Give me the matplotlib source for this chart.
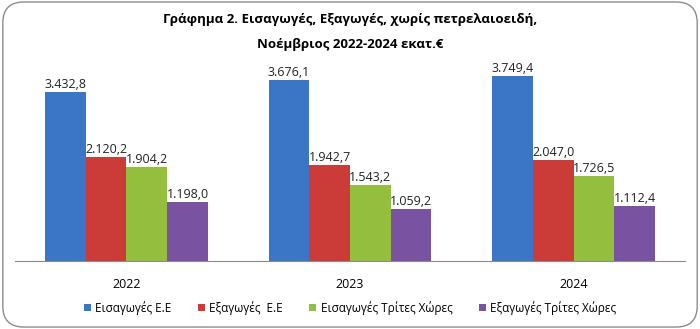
import matplotlib
matplotlib.use("Agg")
import matplotlib.pyplot as plt
from matplotlib.patches import FancyBboxPatch
import numpy as np

plt.rcParams['font.family'] = ['Open Sans', 'Noto Sans', 'DejaVu Sans']

years = ['2022', '2023', '2024']
series = ['Εισαγωγές Ε.Ε', 'Εξαγωγές  Ε.Ε', 'Εισαγωγές Τρίτες Χώρες', 'Εξαγωγές Τρίτες Χώρες']
imp_eu = [3432.8, 3676.1, 3749.4]
exp_eu = [2120.2, 1942.7, 2047.0]
imp_third = [1904.2, 1543.2, 1726.5]
exp_third = [1198.0, 1059.2, 1112.4]
colors = ['#3B75C6', '#CB3B37', '#94BE3E', '#7952A1']

def fmt(v):
    s = f"{v:,.1f}"
    return s.replace(',', 'X').replace('.', ',').replace('X', '.')

fig = plt.figure(figsize=(7, 3.29), dpi=100)
fig.patches.append(FancyBboxPatch((0.004, 0.006), 0.992, 0.988,
                                  boxstyle="round,pad=0,rounding_size=0.03",
                                  transform=fig.transFigure, fill=False,
                                  edgecolor='#8c8c8c', linewidth=1.0,
                                  mutation_aspect=700/329))
ax = fig.add_axes([0.021, 0.207, 0.958, 0.598])

x = np.arange(len(years))
w = 0.182
data = [imp_eu, exp_eu, imp_third, exp_third]
for i, (vals, c, name) in enumerate(zip(data, colors, series)):
    pos = x + (i - 1.5) * w
    bars = ax.bar(pos, vals, w, color=c, label=name)
    for b, v in zip(bars, vals):
        ax.text(b.get_x() + b.get_width() / 2, v + 20, fmt(v),
                ha='center', va='bottom', fontsize=9, color='#222222')

ax.set_xlim(-0.5, 2.5)
ax.set_ylim(0, 4000)
ax.set_yticks([])
ax.set_xticks(x)
ax.set_xticklabels(years, fontsize=9)
ax.tick_params(axis='x', length=0, pad=12)
for s in ['top', 'right', 'left']:
    ax.spines[s].set_visible(False)
ax.spines['bottom'].set_color('#8c8c8c')

fig.text(0.5, 0.94, 'Γράφημα 2. Εισαγωγές, Εξαγωγές, χωρίς πετρελαιοειδή,',
         ha='center', va='center', fontsize=9.5, fontweight='bold')
fig.text(0.5, 0.865, 'Νοέμβριος 2022-2024 εκατ.€',
         ha='center', va='center', fontsize=9.5, fontweight='bold')

fig.legend(loc='center', bbox_to_anchor=(0.5, 0.065), ncol=4, frameon=False,
           fontsize=8.5, handlelength=0.6, handleheight=0.6, handletextpad=0.4,
           columnspacing=2.2)

fig.savefig('out.png', dpi=100)
